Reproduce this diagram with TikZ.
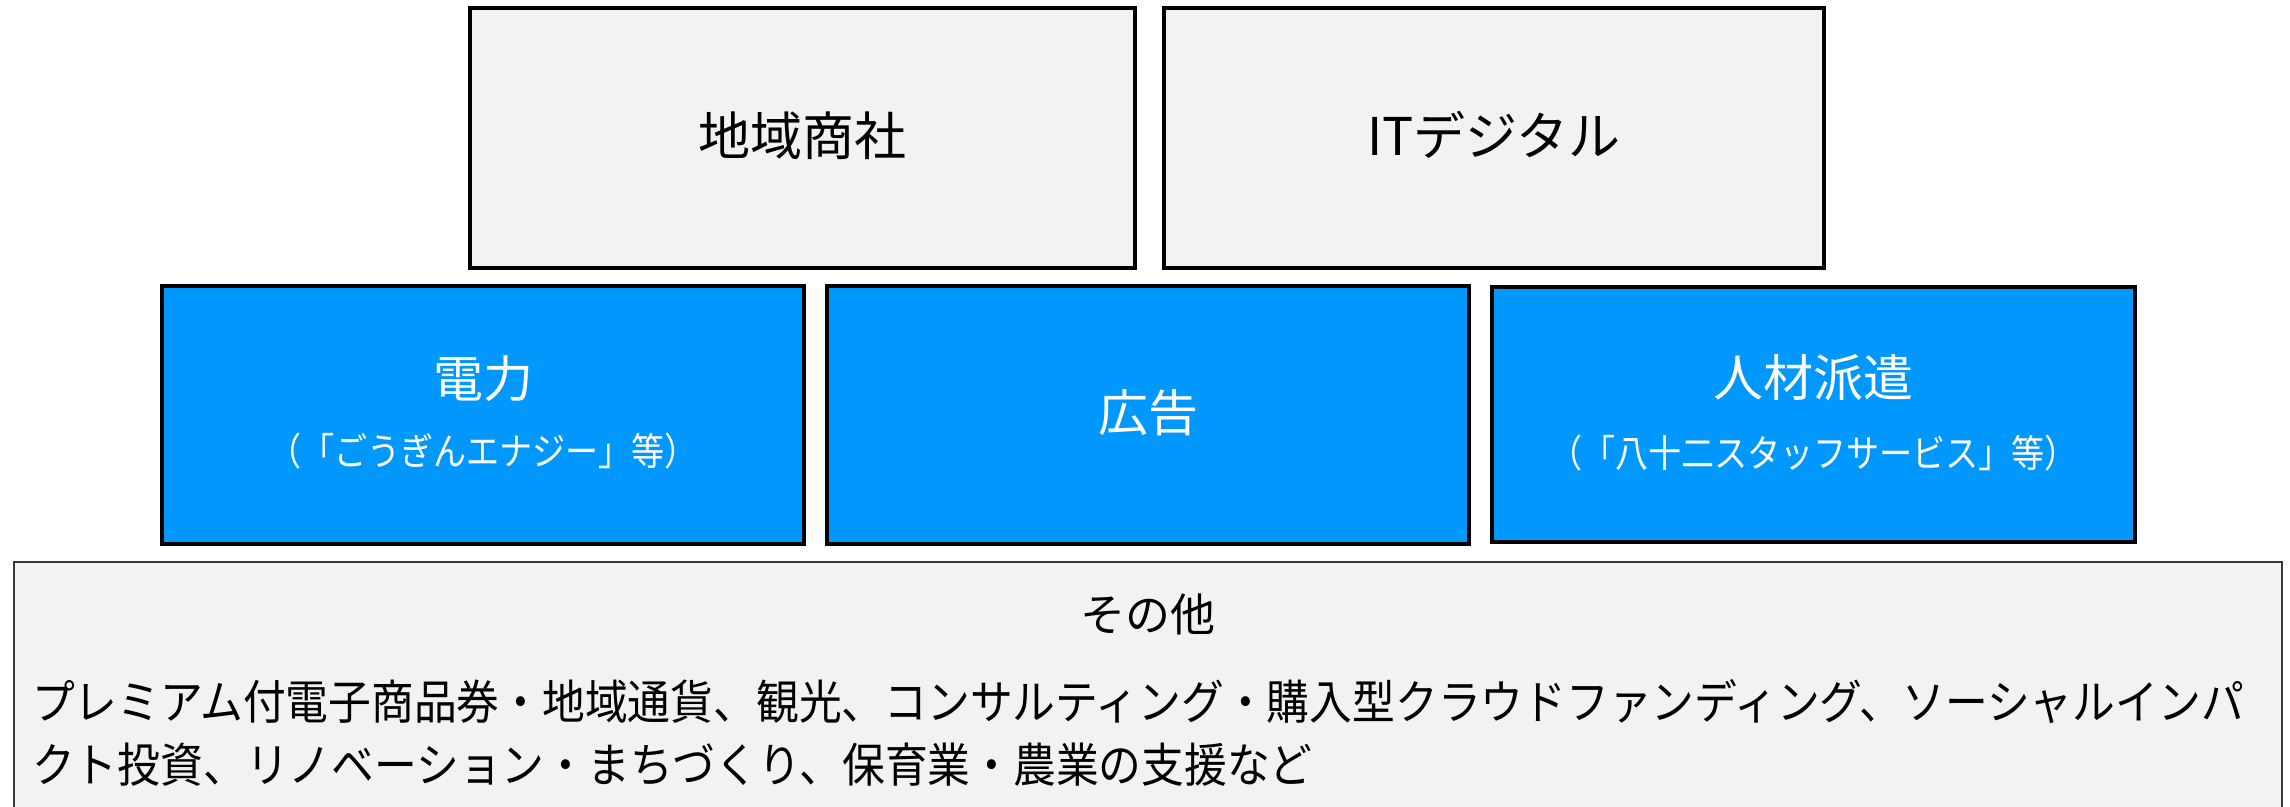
\documentclass[tikz,border=0pt]{standalone}
\usepackage{fontspec}
\setmainfont{Noto Sans CJK JP}
\newfontfamily\condfont[FakeStretch=0.91]{Noto Sans CJK JP}
\newfontfamily\subfont[FakeStretch=0.87]{Noto Sans CJK JP}
\definecolor{boxgrey}{HTML}{F2F2F2}
\definecolor{boxblue}{HTML}{0098FC}
\definecolor{edgegrey}{HTML}{3A3A3A}
\tikzset{
  topbox/.style={draw=black, line width=4pt, fill=boxgrey, inner sep=0pt},
  bluebox/.style={draw=black, line width=4.5pt, fill=boxblue, inner sep=0pt},
  basebox/.style={draw=edgegrey, line width=1.8pt, fill=boxgrey, inner sep=0pt},
  toptxt/.style={inner sep=0pt, text height=45.8pt, text depth=6.2pt, font=\fontsize{52}{60}\selectfont, text=black},
  bluetitle/.style={inner sep=0pt, text height=44pt, text depth=6pt, font=\fontsize{50}{58}\selectfont, text=white},
  bluesub/.style={inner sep=0pt, text height=33.4pt, text depth=4.6pt, font=\subfont\fontsize{38}{44}\selectfont, text=white},
  basetitle/.style={inner sep=0pt, text height=39.6pt, text depth=5.4pt, font=\fontsize{45}{52}\selectfont, text=black},
  baseline/.style={inner sep=0pt, text height=41.4pt, text depth=5.6pt, font=\condfont\fontsize{47}{54}\selectfont, text=black, anchor=west}
}
\begin{document}
\begin{tikzpicture}[x=1pt,y=-1pt]
\useasboundingbox (0,0) rectangle (2290,806);
\clip (0,0) rectangle (2290,806);
\fill[white] (0,0) rectangle (2290,806);
% top row
\node[topbox, minimum width=665pt, minimum height=260pt] (chiiki) at (802.5,138) {};
\node[toptxt] (chiikit) at (802.5,136) {地域商社};
\node[topbox, minimum width=660pt, minimum height=260pt] (it) at (1494,138) {};
\node[toptxt] (itt) at (1494,136) {ITデジタル};
% middle row
\node[bluebox, minimum width=642pt, minimum height=258pt] (denryoku) at (483,415) {};
\node[bluetitle] (denryokut) at (483,378) {電力};
\node[bluesub] (denryokus) at (483,451) {（「ごうぎんエナジー」等）};
\node[bluebox, minimum width=642pt, minimum height=258pt] (koukoku) at (1148,415) {};
\node[bluetitle] (koukokut) at (1148,412) {広告};
\node[bluebox, minimum width=643pt, minimum height=255pt] (jinzai) at (1813.5,414.5) {};
\node[bluetitle] (jinzait) at (1813.5,377) {人材派遣};
\node[bluesub] (jinzais) at (1813.5,453) {（「八十二スタッフサービス」等）};
% bottom box
\node[basebox, minimum width=2268pt, minimum height=280pt] (sonota) at (1148,702) {};
\node[basetitle] (sonotat) at (1148,614) {その他};
\node[baseline] (line1) at (32,702) {プレミアム付電子商品券・地域通貨、観光、コンサルティング・購入型クラウドファンディング、ソーシャルインパ};
\node[baseline] (line2) at (32,765) {クト投資、リノベーション・まちづくり、保育業・農業の支援など};
\end{tikzpicture}
\end{document}
